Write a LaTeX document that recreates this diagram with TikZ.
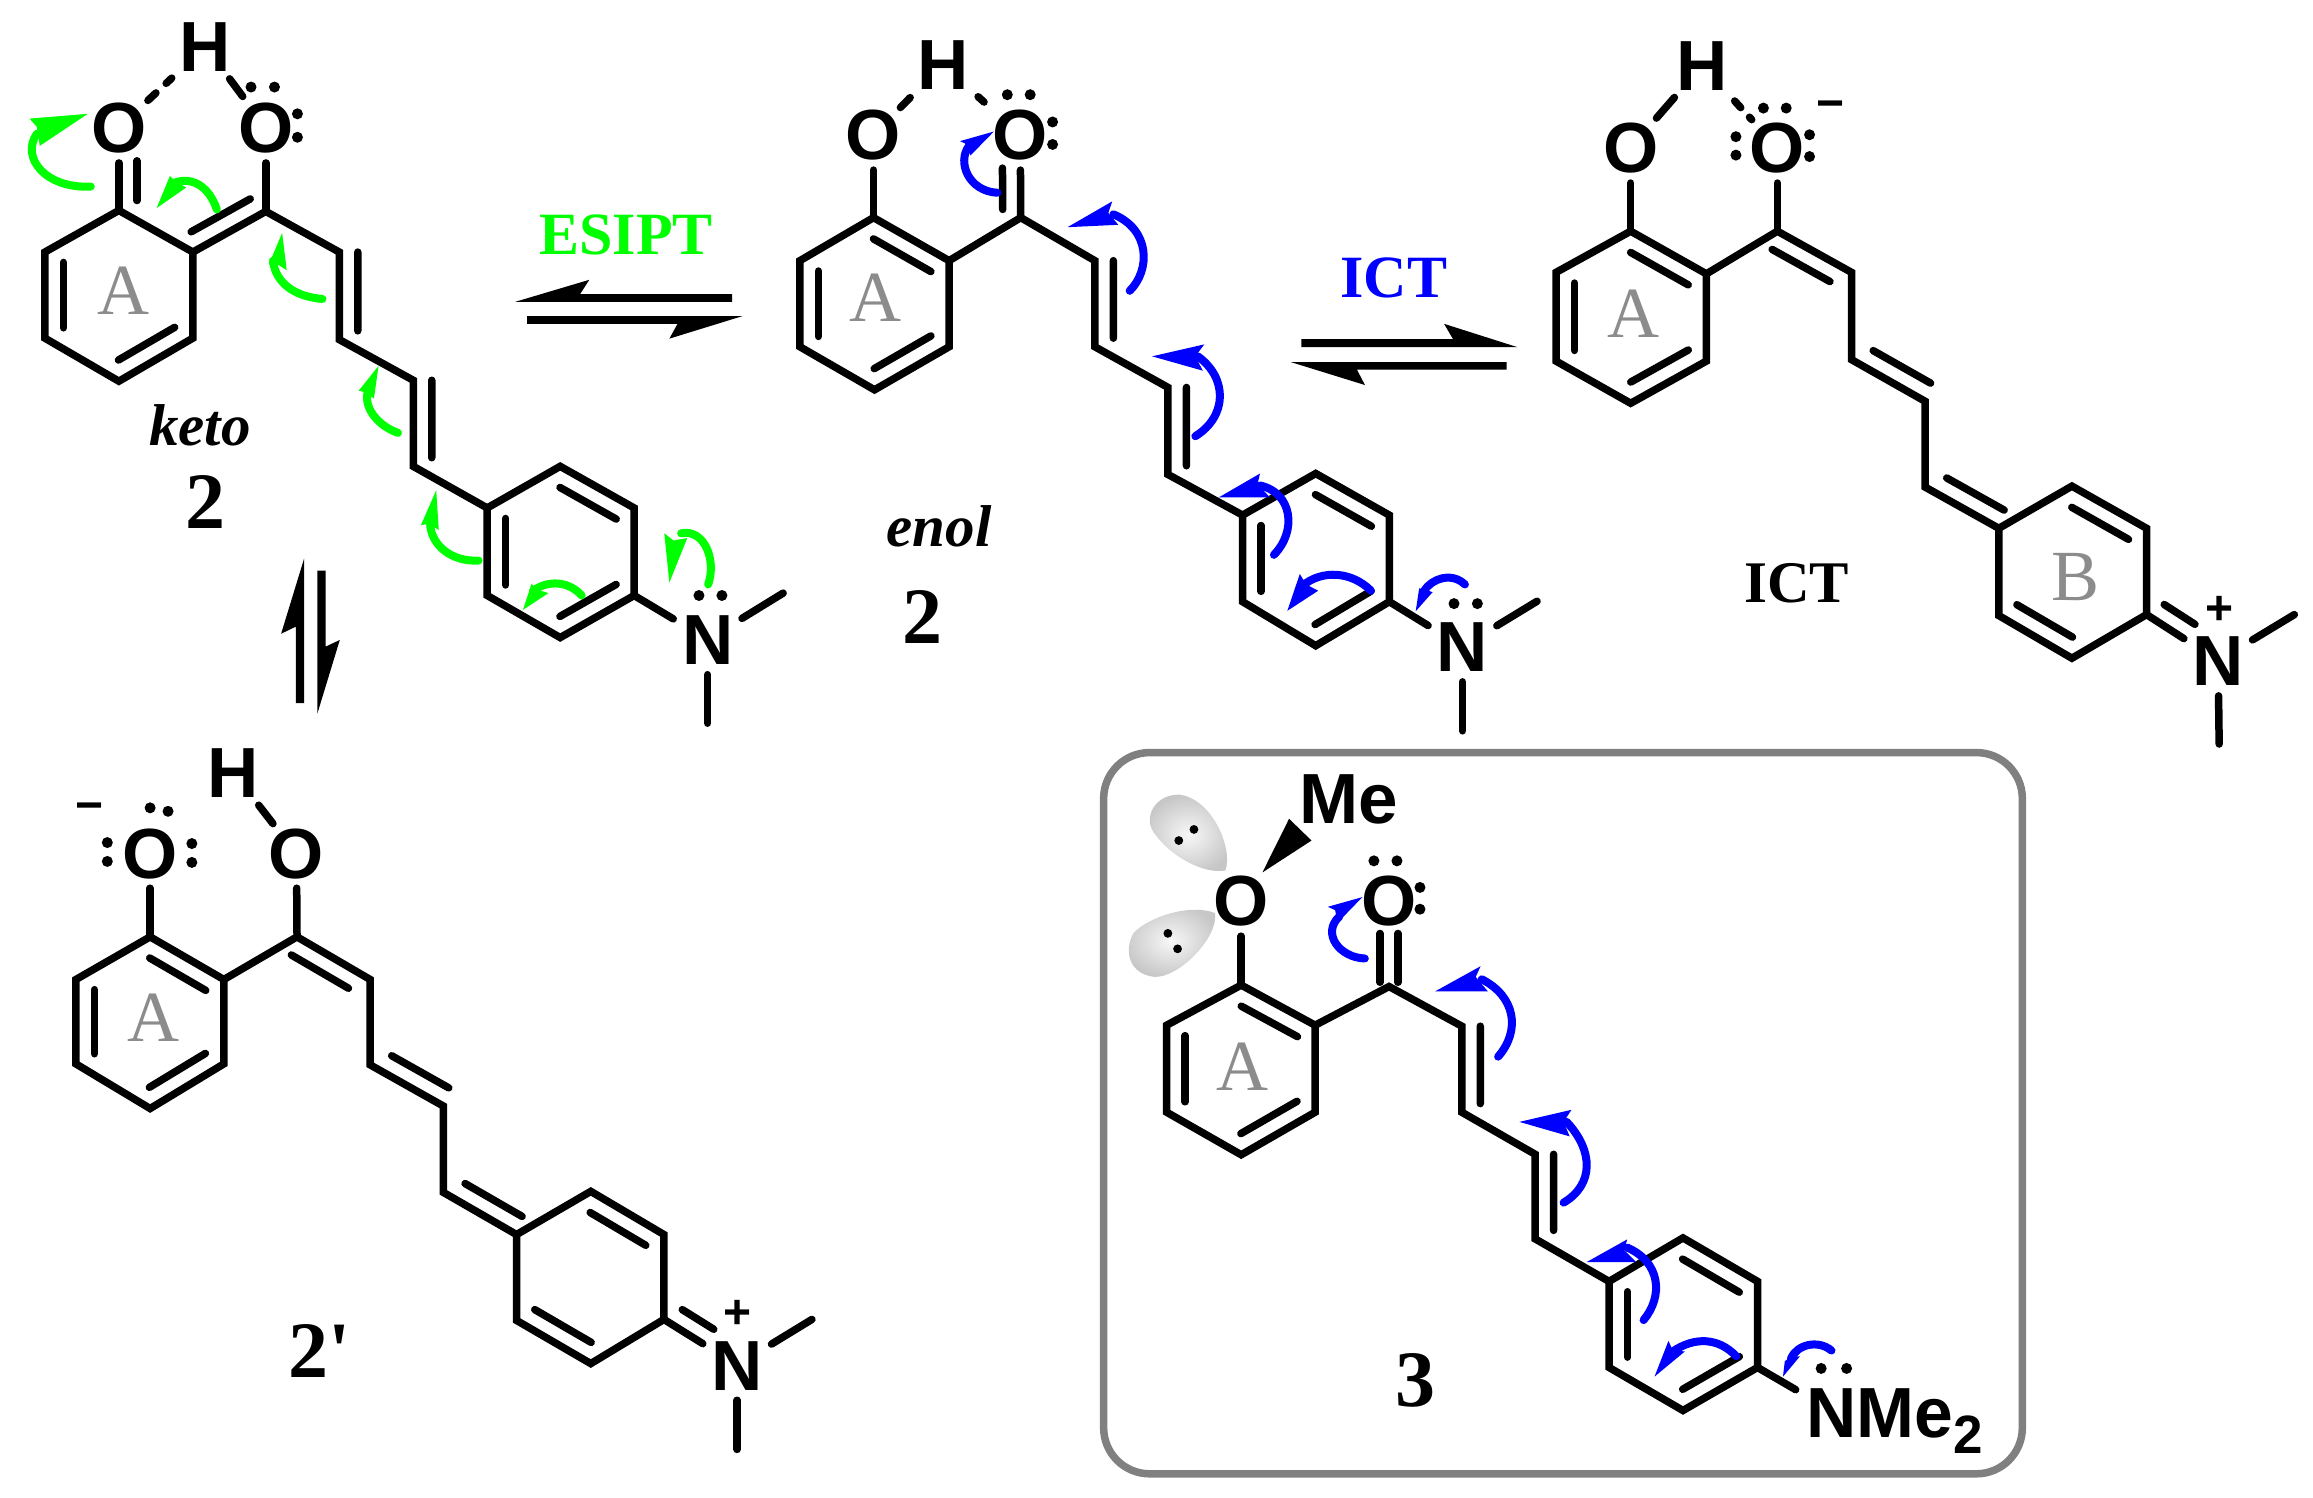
\documentclass[tikz,border=0pt]{standalone}
\usepackage{fontspec}
\usetikzlibrary{calc}
\setmainfont{Liberation Serif}
\newfontfamily\molfont{Liberation Sans}
\newfontfamily\labfont{Liberation Serif}
\definecolor{esgreen}{RGB}{0,255,0}
\definecolor{ictblue}{RGB}{0,0,255}
\definecolor{ringgray}{RGB}{140,140,140}
\tikzset{
  bond/.style={line width=7.5pt,line cap=round,line join=miter,black},
  atom/.style={font=\molfont\bfseries\fontsize{71}{71}\selectfont,inner sep=0pt,text height=50pt,text depth=0pt},
  charge/.style={anchor=base,font=\molfont\bfseries\fontsize{48}{48}\selectfont,inner sep=0pt},
  ringlabel/.style={anchor=base,inner sep=0pt,text=ringgray,font=\labfont\fontsize{72}{72}\selectfont},
  bigno/.style={anchor=base,inner sep=0pt,font=\labfont\bfseries\fontsize{80}{80}\selectfont},
  form/.style={anchor=base,inner sep=0pt,font=\labfont\bfseries\itshape\fontsize{59}{59}\selectfont},
  caption/.style={anchor=base,inner sep=0pt,font=\labfont\bfseries\fontsize{59}{59}\selectfont},
  garrow/.style={line width=8pt,line cap=round,esgreen},
  barrow/.style={line width=8pt,line cap=round,ictblue},
  gray box/.style={line width=7.5pt,draw=black!50,rounded corners=46pt},
  lobe/.style={inner color=black!3,outer color=black!22}
}
\newcommand{\dbl}[5]{\draw[bond] ($(#1)!#3!(#2)!#5!90:(#2)$) -- ($(#1)!#4!(#2)!#5!90:(#2)$);}
\newcommand{\lp}[1]{\fill (#1) circle[radius=5.5pt];}
\newcommand{\lpsmall}[1]{\fill (#1) circle[radius=4.4pt];}
\begin{document}
\begin{tikzpicture}
\useasboundingbox (0pt,0pt) rectangle (2313pt,-1498pt);
\fill[white] (0pt,0pt) rectangle (2313pt,-1498pt);

% ---------- keto 2
\begin{scope}[x=0.5102pt,y=-0.4783pt]
\coordinate (k1) at (233,440); \coordinate (k2) at (378,527); \coordinate (k3) at (378,707);
\coordinate (k4) at (233,797); \coordinate (k5) at (88,707); \coordinate (k6) at (88,527);
\coordinate (kc) at (521,442); \coordinate (kd1) at (665,527); \coordinate (kd2) at (665,710);
\coordinate (kd3) at (810,795); \coordinate (kd4) at (810,975);
\coordinate (kb1) at (955,1062); \coordinate (kb2) at (1098,975); \coordinate (kb3) at (1243,1062);
\coordinate (kb4) at (1243,1245); \coordinate (kb5) at (1098,1333); \coordinate (kb6) at (955,1245);
\coordinate (kMa) at (1535,1240); \coordinate (kMb) at (1387,1512);
\node[atom] (kO) at (233,267) {O};
\node[atom] (kOr) at (521,267) {O};
\node[atom] (kH) at (403,97) {H};
\node[atom] (kN) at (1387,1337) {N};
\draw[bond] (k1)--(k2)--(k3)--(k4)--(k5)--(k6)--cycle;
\draw[bond] (k2)--(kc)--(kd1)--(kd2)--(kd3)--(kd4)--(kb1);
\draw[bond] (kb1)--(kb2)--(kb3)--(kb4)--(kb5)--(kb6)--cycle;
\dbl{k2}{kc}{.1}{.91}{18.5pt}
\dbl{k3}{k4}{.12}{.88}{-18.5pt}
\dbl{k5}{k6}{.12}{.88}{-18.5pt}
\dbl{kd1}{kd2}{0}{.9}{18.5pt}
\dbl{kd3}{kd4}{0}{.9}{18.5pt}
\dbl{kb2}{kb3}{.12}{.88}{-18.5pt}
\dbl{kb4}{kb5}{.12}{.88}{-18.5pt}
\dbl{kb6}{kb1}{.12}{.88}{-18.5pt}
\draw[bond,shorten >=10pt] (k1)--(kO);
\dbl{k1}{kO}{.12}{.6}{-18pt}
\draw[bond,shorten >=10pt] (kc)--(kOr);
\draw[bond,shorten <=3pt,shorten >=11pt,dash pattern=on 11pt off 14pt on 15pt off 100pt] (kO)--(kH);
\draw[bond,shorten <=9pt,shorten >=7.5pt] (kH)--(kOr);
\draw[bond,shorten >=10pt] (kb4)--(kN);
\draw[bond,shorten <=10pt] (kN)--(kMa);
\draw[bond,shorten <=10pt] (kN)--(kMb);
\lp{492,182}\lp{538,182}\lp{583,238}\lp{583,287}
\lp{1370,1245}\lp{1415,1245}
\node[ringlabel] (kA) at (243,657) {A};
\node[form] (kketo) at (392,932) {keto};
\node[bigno] (k2no) at (403,1105) {2};
\node[caption,text=esgreen,font=\labfont\bfseries\fontsize{60}{60}\selectfont] (kes) at (1227,533) {ESIPT};
% equilibrium arrows
\fill (1435,631)--(1010,631)--(1155,585)--(1137,615)--(1435,615)--cycle;
\fill (1033,661)--(1455,661)--(1312,708)--(1328,677)--(1033,677)--cycle;
\fill (596,1470)--(596,1168)--(551,1325)--(580,1310)--(580,1470)--cycle;
\fill (622,1193)--(622,1492)--(666,1338)--(638,1352)--(638,1193)--cycle;
% green curved arrows
\draw[garrow] (178,390) .. controls (90,395) and (40,330) .. (72,280);
\fill[esgreen] (172,238)--(58,248)--(72,265)--(78,305)--cycle;
\draw[garrow] (425,438) .. controls (410,390) and (375,365) .. (335,385);
\fill[esgreen] (333,368)--(307,435)--(365,392)--(342,378)--cycle;
\draw[garrow] (632,625) .. controls (575,620) and (540,590) .. (535,545);
\fill[esgreen] (553,487)--(527,553)--(540,550)--(562,565)--cycle;
\draw[garrow] (780,905) .. controls (740,890) and (710,850) .. (722,815);
\fill[esgreen] (742,765)--(703,817)--(715,820)--(733,833)--cycle;
\draw[garrow] (938,1172) .. controls (885,1175) and (845,1140) .. (843,1095);
\fill[esgreen] (855,1025)--(825,1098)--(840,1095)--(860,1108)--cycle;
\draw[garrow] (1140,1245) .. controls (1115,1215) and (1075,1212) .. (1045,1235);
\fill[esgreen] (1042,1220)--(1025,1275)--(1075,1240)--(1050,1232)--cycle;
\draw[garrow] (1388,1222) .. controls (1405,1170) and (1380,1105) .. (1335,1115);
\fill[esgreen] (1302,1115)--(1312,1218)--(1347,1125)--(1320,1130)--cycle;
\end{scope}

% ---------- enol 2
\begin{scope}[shift={(780pt,0pt)},x=0.4974pt,y=-0.4783pt]
\coordinate (e1) at (188,455); \coordinate (e2) at (340,545); \coordinate (e3) at (340,725);
\coordinate (e4) at (190,815); \coordinate (e5) at (40,725); \coordinate (e6) at (40,545);
\coordinate (ec) at (484,455); \coordinate (ed1) at (633,545); \coordinate (ed2) at (633,725);
\coordinate (ed3) at (780,810); \coordinate (ed4) at (780,992);
\coordinate (eb1) at (930,1077); \coordinate (eb2) at (1077,990); \coordinate (eb3) at (1225,1077);
\coordinate (eb4) at (1225,1258); \coordinate (eb5) at (1077,1350); \coordinate (eb6) at (930,1258);
\coordinate (eMa) at (1522,1257); \coordinate (eMb) at (1372,1528);
\node[atom] (eO) at (188,282) {O};
\node[atom] (eOr) at (483,282) {O};
\node[atom] (eH) at (327,135) {H};
\node[atom] (eN) at (1372,1352) {N};
\draw[bond] (e1)--(e2)--(e3)--(e4)--(e5)--(e6)--cycle;
\draw[bond] (e2)--(ec)--(ed1)--(ed2)--(ed3)--(ed4)--(eb1);
\draw[bond] (eb1)--(eb2)--(eb3)--(eb4)--(eb5)--(eb6)--cycle;
\dbl{e1}{e2}{.12}{.88}{-18.5pt}
\dbl{e3}{e4}{.12}{.88}{-18.5pt}
\dbl{e5}{e6}{.12}{.88}{-18.5pt}
\dbl{ed1}{ed2}{0}{.9}{18.5pt}
\dbl{ed3}{ed4}{0}{.9}{18.5pt}
\dbl{eb2}{eb3}{.12}{.88}{-18.5pt}
\dbl{eb4}{eb5}{.12}{.88}{-18.5pt}
\dbl{eb6}{eb1}{.12}{.88}{-18.5pt}
\draw[bond,shorten >=10pt] (e1)--(eO);
\draw[bond,shorten >=10pt] (ec)--(eOr);
\dbl{ec}{eOr}{.1}{.6}{18pt}
\draw[bond,shorten <=3pt,shorten >=11pt] (eO)--(eH);
\draw[bond,shorten <=13pt,shorten >=3pt,dash pattern=on 8pt off 10pt on 10pt off 100pt] (eH)--(eOr);
\draw[bond,shorten >=10pt] (eb4)--(eN);
\draw[bond,shorten <=10pt] (eN)--(eMa);
\draw[bond,shorten <=10pt] (eN)--(eMb);
\lp{457,198}\lp{503,198}\lp{548,255}\lp{548,302}
\lp{1355,1262}\lp{1402,1262}
\node[ringlabel] (eA) at (192,672) {A};
\node[form] (eenol) at (320,1143) {enol};
\node[bigno] (e2no) at (287,1345) {2};
\node[caption,text=ictblue,font=\labfont\bfseries\fontsize{60}{60}\selectfont] (eict) at (1234,622) {ICT};
\fill (1048,709)--(1353,709)--(1335,677)--(1483,726)--(1048,726)--cycle;
\fill (1461,757)--(1027,757)--(1176,805)--(1160,773)--(1461,773)--cycle;
\draw[barrow] (437,403) .. controls (380,400) and (355,340) .. (380,305);
\fill[ictblue] (430,275)--(362,295)--(372,300)--(383,325)--cycle;
\draw[barrow] (703,608) .. controls (745,565) and (745,480) .. (670,448);
\fill[ictblue] (668,421)--(578,475)--(680,470)--(660,445)--cycle;
\draw[barrow] (835,912) .. controls (900,870) and (900,790) .. (840,745);
\fill[ictblue] (853,720)--(748,745)--(850,775)--(835,745)--cycle;
\draw[barrow] (993,1160) .. controls (1040,1110) and (1030,1030) .. (965,1015);
\fill[ictblue] (965,990)--(882,1040)--(985,1040)--(960,1012)--cycle;
\draw[barrow] (1188,1235) .. controls (1150,1195) and (1090,1190) .. (1050,1225);
\fill[ictblue] (1045,1200)--(1020,1277)--(1082,1235)--(1058,1222)--cycle;
\draw[barrow] (1377,1222) .. controls (1350,1195) and (1310,1210) .. (1295,1235);
\fill[ictblue] (1285,1230)--(1278,1278)--(1312,1238)--(1295,1232)--cycle;
\end{scope}

% ---------- ICT form
\begin{scope}[shift={(1500pt,0pt)},x=0.5185pt,y=-0.4847pt]
\coordinate (i1) at (252,477); \coordinate (i2) at (398,565); \coordinate (i3) at (398,745);
\coordinate (i4) at (252,832); \coordinate (i5) at (108,745); \coordinate (i6) at (108,562);
\coordinate (ic) at (535,477); \coordinate (id1) at (678,562); \coordinate (id2) at (678,742);
\coordinate (id3) at (820,828); \coordinate (id4) at (820,1005);
\coordinate (ib1) at (962,1090); \coordinate (ib2) at (1103,1003); \coordinate (ib3) at (1247,1090);
\coordinate (ib4) at (1247,1268); \coordinate (ib5) at (1103,1358); \coordinate (ib6) at (962,1270);
\coordinate (iMa) at (1532,1268); \coordinate (iMb) at (1387,1535);
\node[atom] (iO) at (252,305) {O};
\node[atom] (iOr) at (535,305) {O};
\node[atom] (iH) at (390,135) {H};
\node[atom] (iN) at (1385,1363) {N};
\node[charge] (iplus) at (1387,1288) {+};
\node[charge] (iminus) at (637,246) {\textminus};
\draw[bond] (i1)--(i2)--(i3)--(i4)--(i5)--(i6)--cycle;
\draw[bond] (i2)--(ic)--(id1)--(id2)--(id3)--(id4)--(ib1);
\draw[bond] (ib1)--(ib2)--(ib3)--(ib4)--(ib5)--(ib6)--cycle;
\dbl{i1}{i2}{.12}{.88}{-18.5pt}
\dbl{i3}{i4}{.12}{.88}{-18.5pt}
\dbl{i5}{i6}{.12}{.88}{-18.5pt}
\dbl{ic}{id1}{.05}{.83}{-18.5pt}
\dbl{id2}{id3}{.17}{.95}{18.5pt}
\dbl{id4}{ib1}{.17}{.95}{18.5pt}
\dbl{ib2}{ib3}{.12}{.88}{-18.5pt}
\dbl{ib5}{ib6}{.12}{.88}{-18.5pt}
\draw[bond,shorten >=10pt] (i1)--(iO);
\draw[bond,shorten >=10pt] (ic)--(iOr);
\draw[bond,shorten <=6pt,shorten >=9pt] (iO)--(iH);
\draw[bond,shorten <=14pt,shorten >=4pt,dash pattern=on 9pt off 13pt on 9pt off 100pt] (iH)--(iOr);
\draw[bond,shorten >=10pt] (ib4)--(iN);
\dbl{ib4}{iN}{.11}{.54}{18pt}
\draw[bond,shorten <=10pt] (iN)--(iMa);
\draw[bond,shorten <=10pt] (iN)--(iMb);
\lp{508,223}\lp{552,223}\lp{597,278}\lp{597,323}\lp{455,282}\lp{455,320}
\node[ringlabel] (iA) at (257,697) {A};
\node[ringlabel] (iB) at (1110,1238) {B};
\node[caption] (iict) at (572,1243) {ICT};
\end{scope}

% ---------- 2'
\begin{scope}[shift={(0pt,-720pt)},x=0.542pt,y=-0.4962pt]
\coordinate (p1) at (277,437); \coordinate (p2) at (413,523); \coordinate (p3) at (413,693);
\coordinate (p4) at (277,783); \coordinate (p5) at (140,693); \coordinate (p6) at (140,523);
\coordinate (pc) at (548,437); \coordinate (pd1) at (683,523); \coordinate (pd2) at (683,695);
\coordinate (pd3) at (818,778); \coordinate (pd4) at (818,952);
\coordinate (pb1) at (953,1037); \coordinate (pb2) at (1090,950); \coordinate (pb3) at (1225,1037);
\coordinate (pb4) at (1225,1208); \coordinate (pb5) at (1090,1297); \coordinate (pb6) at (953,1210);
\coordinate (pMa) at (1498,1208); \coordinate (pMb) at (1360,1470);
\node[atom] (pO) at (277,270) {O};
\node[atom] (pOr) at (547,270) {O};
\node[atom] (pH) at (430,105) {H};
\node[atom] (pN) at (1360,1300) {N};
\node[charge] (pplus) at (1360,1226) {+};
\node[charge] (pminus) at (165,205) {\textminus};
\draw[bond] (p1)--(p2)--(p3)--(p4)--(p5)--(p6)--cycle;
\draw[bond] (p2)--(pc)--(pd1)--(pd2)--(pd3)--(pd4)--(pb1);
\draw[bond] (pb1)--(pb2)--(pb3)--(pb4)--(pb5)--(pb6)--cycle;
\dbl{p1}{p2}{.12}{.88}{-18.5pt}
\dbl{p3}{p4}{.12}{.88}{-18.5pt}
\dbl{p5}{p6}{.12}{.88}{-18.5pt}
\dbl{pc}{pd1}{.05}{.83}{-18.5pt}
\dbl{pd2}{pd3}{.17}{.95}{18.5pt}
\dbl{pd4}{pb1}{.17}{.95}{18.5pt}
\dbl{pb2}{pb3}{.12}{.88}{-18.5pt}
\dbl{pb5}{pb6}{.12}{.88}{-18.5pt}
\draw[bond,shorten >=9pt] (p1)--(pO);
\draw[bond,shorten >=9pt] (pc)--(pOr);
\draw[bond,shorten <=10pt,shorten >=6.5pt] (pH)--(pOr);
\draw[bond,shorten >=10pt] (pb4)--(pN);
\dbl{pb4}{pN}{.12}{.55}{18pt}
\draw[bond,shorten <=10pt] (pN)--(pMa);
\draw[bond,shorten <=10pt] (pN)--(pMb);
\lp{277,177}\lp{310,184}\lp{198,247}\lp{198,285}\lp{354,249}\lp{354,287}
\node[ringlabel] (pA) at (284,647) {A};
\node[bigno] (p2no) at (589,1325) {2'};
\end{scope}

% ---------- 3 in the box
\begin{scope}[shift={(1100pt,-740pt)},x=0.606pt,y=-0.4834pt]
\coordinate (bxa) at (6,26); \coordinate (bxb) at (1522,1518);
\draw[gray box] (bxa) rectangle (bxb);
\shade[lobe] (207,270) .. controls (220,225) and (185,120) .. (130,113) .. controls (90,113) and (72,160) .. (88,190) .. controls (115,240) and (170,278) .. (207,270) -- cycle;
\shade[lobe] (190,358) .. controls (195,410) and (130,492) .. (90,490) .. controls (50,485) and (38,440) .. (55,400) .. controls (80,365) and (150,338) .. (190,358) -- cycle;
\lpsmall{155,185}\lpsmall{130,208}\lpsmall{112,400}\lpsmall{128,432}
\coordinate (m1) at (233,507); \coordinate (m2) at (355,590); \coordinate (m3) at (355,770);
\coordinate (m4) at (233,858); \coordinate (m5) at (110,770); \coordinate (m6) at (110,590);
\coordinate (mc) at (477,510); \coordinate (md1) at (597,592); \coordinate (md2) at (597,770);
\coordinate (md3) at (718,857); \coordinate (md4) at (718,1032);
\coordinate (mb1) at (840,1120); \coordinate (mb2) at (962,1030); \coordinate (mb3) at (1085,1120);
\coordinate (mb4) at (1085,1298); \coordinate (mb5) at (962,1387); \coordinate (mb6) at (840,1298);
\coordinate (mNe) at (1148,1344);
\node[atom] (mO) at (233,333) {O};
\node[atom] (mOr) at (477,333) {O};
\node[atom] (mMe) at (410,122) {Me};
\node[anchor=base west,inner sep=0pt,font=\molfont\bfseries\fontsize{71}{71}\selectfont,xscale=.98,transform shape] (mNMe) at (1165,1443) {NMe\raisebox{-15.5pt}{\fontsize{54}{54}\selectfont 2}};
\draw[bond] (m1)--(m2)--(m3)--(m4)--(m5)--(m6)--cycle;
\draw[bond] (m2)--(mc)--(md1)--(md2)--(md3)--(md4)--(mb1);
\draw[bond] (mb1)--(mb2)--(mb3)--(mb4)--(mb5)--(mb6)--cycle;
\dbl{m1}{m2}{.12}{.88}{-18.5pt}
\dbl{m3}{m4}{.12}{.88}{-18.5pt}
\dbl{m5}{m6}{.12}{.88}{-18.5pt}
\dbl{md1}{md2}{0}{.9}{18.5pt}
\dbl{md3}{md4}{0}{.9}{18.5pt}
\dbl{mb2}{mb3}{.12}{.88}{-18.5pt}
\dbl{mb4}{mb5}{.12}{.88}{-18.5pt}
\dbl{mb6}{mb1}{.12}{.88}{-18.5pt}
\draw[bond,shorten >=10pt] (m1)--(mO);
\dbl{mc}{mOr}{.05}{.62}{9pt}
\dbl{mc}{mOr}{.05}{.62}{-9pt}
\draw[bond] (mb4)--(mNe);
\fill (268,274)--(349,208)--(312,163)--cycle;
\lp{452,250}\lp{490,250}\lp{528,305}\lp{528,350}\lp{1190,1300}\lp{1232,1300}
\node[ringlabel] (mA) at (235,725) {A};
\node[bigno] (m3no) at (520,1378) {3};
\draw[barrow] (437,452) .. controls (395,450) and (365,400) .. (395,365);
\fill[ictblue] (433,325)--(376,345)--(388,352)--(392,378)--cycle;
\draw[barrow] (657,655) .. controls (695,600) and (685,530) .. (630,495);
\fill[ictblue] (628,468)--(553,520)--(640,520)--(620,490)--cycle;
\draw[barrow] (765,957) .. controls (815,920) and (815,850) .. (770,790);
\fill[ictblue] (778,765)--(692,790)--(775,820)--(765,790)--cycle;
\draw[barrow] (897,1200) .. controls (930,1150) and (925,1080) .. (870,1050);
\fill[ictblue] (870,1033)--(803,1080)--(885,1080)--(865,1055)--cycle;
\draw[barrow] (1050,1275) .. controls (1020,1235) and (980,1235) .. (945,1265);
\fill[ictblue] (938,1243)--(915,1317)--(965,1265)--(945,1262)--cycle;
\draw[barrow] (1207,1263) .. controls (1185,1240) and (1150,1250) .. (1140,1280);
\fill[ictblue] (1130,1285)--(1127,1317)--(1155,1275)--(1142,1275)--cycle;
\end{scope}
\end{tikzpicture}
\end{document}
